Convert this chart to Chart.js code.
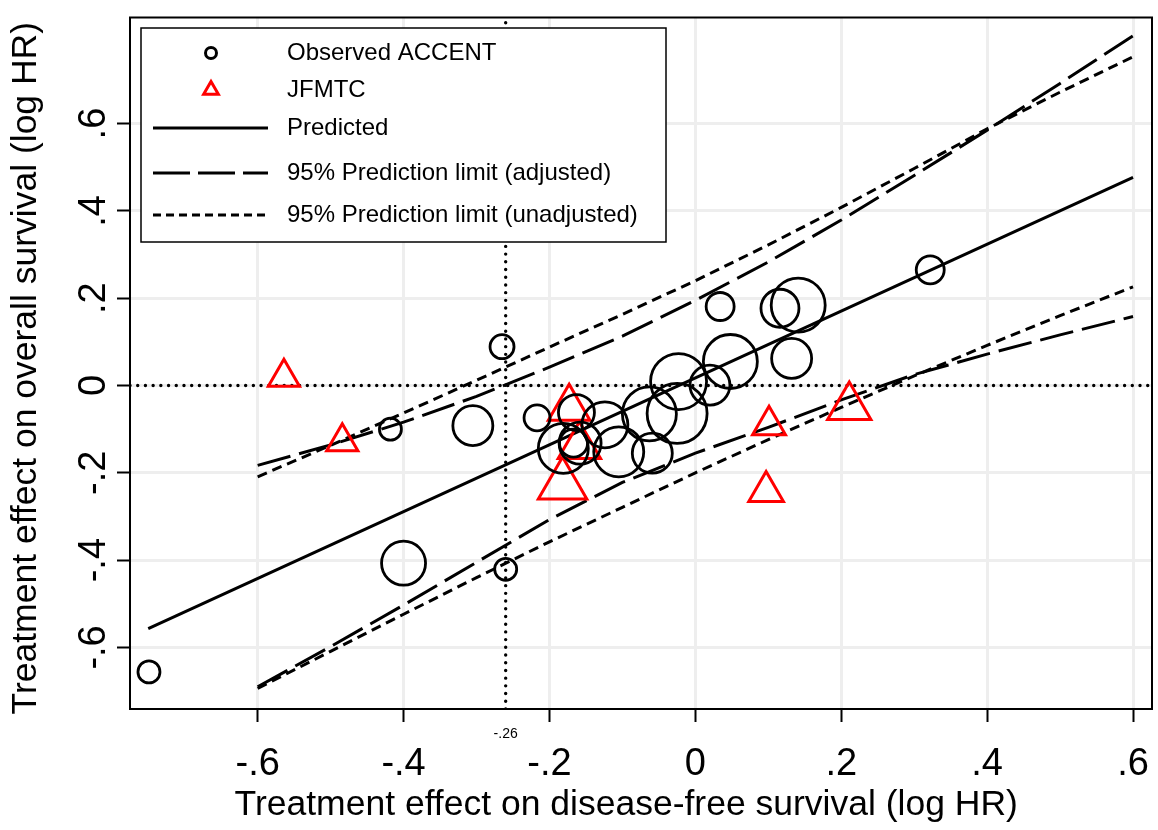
<!DOCTYPE html>
<html>
<head>
<meta charset="utf-8">
<script src="https://cdn.jsdelivr.net/npm/chart.js@4.4.1/dist/chart.umd.min.js"></script>
<style>
  html, body { margin: 0; background: #fff; }
</style>
</head>
<body>
<canvas id="surrogateChart" width="1158" height="830"></canvas>
<script>
// axis ranges and ticks (log HR)
const xLimits = [-0.775, 0.626];
const yLimits = [-0.741, 0.843];
const xTickValues = [-0.6, -0.4, -0.2, 0, 0.2, 0.4, 0.6];
const yTickValues = [-0.6, -0.4, -0.2, 0, 0.2, 0.4, 0.6];
const refX = -0.26;   // surrogate threshold on DFS
const refY = 0;

// ACCENT trials: DFS log HR, OS log HR, relative marker weight
const accentX = [-0.749, -0.418, -0.400, -0.305, -0.265, -0.260, -0.217, -0.163, -0.181, -0.158, -0.167, -0.124,
                 -0.105, -0.063, -0.059, -0.025, -0.023, 0.020, 0.048, 0.034, 0.116, 0.141, 0.132, 0.322];
const accentY = [-0.656, -0.100, -0.407, -0.092, 0.089, -0.421, -0.074, -0.062, -0.144, -0.132, -0.132, -0.090,
                 -0.152, -0.065, -0.155, -0.064, 0.009, 0.001, 0.055, 0.181, 0.177, 0.184, 0.062, 0.265];
const accentWeight = [1.1, 1.1, 2.2, 2.0, 1.2, 1.1, 1.3, 1.8, 2.5, 2.1, 1.4, 2.3,
                      2.5, 2.7, 2.0, 3.0, 2.8, 2.0, 2.7, 1.4, 1.9, 2.7, 2.0, 1.4];

// JFMTC trials
const jfmtcX = [-0.173, -0.159, -0.182, 0.101, 0.097, 0.211, -0.564, -0.484];
const jfmtcY = [-0.052, -0.139, -0.228, -0.091, -0.243, -0.049, 0.019, -0.129];
const jfmtcWeight = [2.4, 2.45, 2.8, 1.9, 2.0, 2.5, 1.8, 1.8];

// regression line
const predX = [-0.75, 0.6];
const predY = [-0.557, 0.477];

// prediction limits
const limitX = [-0.6, -0.5, -0.4, -0.3, -0.2, -0.1, 0, 0.1, 0.2, 0.3, 0.4, 0.5, 0.6];
const adjUpper = [-0.183, -0.136, -0.084, -0.025, 0.042, 0.113, 0.195, 0.283, 0.379, 0.481, 0.585, 0.692, 0.801];
const adjLower = [-0.690, -0.598, -0.503, -0.405, -0.307, -0.222, -0.155, -0.096, -0.033, 0.025, 0.072, 0.116, 0.158];
const unadjUpper = [-0.209, -0.137, -0.063, 0.012, 0.088, 0.163, 0.240, 0.322, 0.408, 0.497, 0.588, 0.672, 0.753];
const unadjLower = [-0.694, -0.609, -0.524, -0.440, -0.358, -0.279, -0.200, -0.124, -0.050, 0.022, 0.092, 0.160, 0.226];

const FONT = 'Liberation Sans';
const markerScale = 10;
const lineW = 3;
const longDash = [34, 9];
const shortDash = [10, 6];
const dotted = [0.01, 7.7];

const pts = (xs, ys) => xs.map((x, i) => ({ x, y: ys[i] }));

function stataLabel(v) {
    if (v === 0) return '0';
    return (v < 0 ? '-' : '') + String(Math.abs(v)).replace(/^0/, '');
}

Chart.defaults.font.family = FONT;
Chart.defaults.color = '#000';

// frame round the plot area and the boxed key
const KEY = { left: 11, top: 10.5, width: 525, height: 214, rowY: [35.5, 72.5, 110.5, 155.5, 197.5],
              symbolX: 81, sampleFrom: 23, sampleTo: 138, textX: 157 };
const keyRows = [0, 1, 2, 3, 5];
const keyDash = { 3: [37, 8], 5: [8, 5] };

const frameAndKey = {
    id: 'frameAndKey',
    afterDraw(chart) {
        const { ctx, chartArea: a } = chart;
        ctx.save();
        ctx.strokeStyle = '#000';
        ctx.lineWidth = 2;
        ctx.strokeRect(a.left, a.top, a.right - a.left, a.bottom - a.top);

        const bx = a.left + KEY.left, by = a.top + KEY.top;
        ctx.fillStyle = '#fff';
        ctx.fillRect(bx, by, KEY.width, KEY.height);
        ctx.lineWidth = 1.5;
        ctx.strokeRect(bx, by, KEY.width, KEY.height);

        keyRows.forEach((dsIndex, row) => {
            const ds = chart.data.datasets[dsIndex];
            const y = a.top + KEY.rowY[row];
            ctx.save();
            ctx.strokeStyle = ds.borderColor;
            if (ds.showLine) {
                ctx.lineWidth = ds.borderWidth;
                ctx.setLineDash(keyDash[dsIndex] || []);
                ctx.beginPath();
                ctx.moveTo(a.left + KEY.sampleFrom, y);
                ctx.lineTo(a.left + KEY.sampleTo, y);
                ctx.stroke();
            } else {
                ctx.fillStyle = 'rgba(0,0,0,0)';
                ctx.lineWidth = 3;
                Chart.helpers.drawPoint(ctx, {
                    pointStyle: ds.pointStyle, rotation: 0, borderWidth: 3,
                    radius: ds.pointStyle === 'triangle' ? 8.5 : 5.5
                }, a.left + KEY.symbolX, y);
            }
            ctx.restore();
            ctx.fillStyle = '#000';
            ctx.font = '24px "' + FONT + '"';
            ctx.textBaseline = 'middle';
            ctx.fillText(ds.label, a.left + KEY.textX, y);
        });
        ctx.restore();
    }
};

const isRef = c => c.tick && c.tick.value === refX;
const noEdgePadding = s => { s.paddingLeft = s.paddingRight = s.paddingTop = s.paddingBottom = 0; };

new Chart(document.getElementById('surrogateChart'), {
    type: 'scatter',
    data: {
        datasets: [
            { label: 'Observed ACCENT', data: pts(accentX, accentY), pointStyle: 'circle',
              pointRadius: c => accentWeight[c.dataIndex] * markerScale,
              borderColor: '#000', backgroundColor: 'rgba(0,0,0,0)', pointBorderWidth: 2.8 },
            { label: 'JFMTC', data: pts(jfmtcX, jfmtcY), pointStyle: 'triangle',
              pointRadius: c => jfmtcWeight[c.dataIndex] * markerScale,
              borderColor: '#ff0000', backgroundColor: 'rgba(0,0,0,0)', pointBorderWidth: 3 },
            { label: 'Predicted', data: pts(predX, predY), showLine: true, pointRadius: 0,
              borderColor: '#000', borderWidth: lineW },
            { label: '95% Prediction limit (adjusted)', data: pts(limitX, adjUpper), showLine: true, pointRadius: 0,
              borderColor: '#000', borderWidth: lineW, borderDash: longDash },
            { label: '95% Prediction limit (adjusted)', data: pts(limitX, adjLower), showLine: true, pointRadius: 0,
              borderColor: '#000', borderWidth: lineW, borderDash: longDash },
            { label: '95% Prediction limit (unadjusted)', data: pts(limitX, unadjUpper), showLine: true, pointRadius: 0,
              borderColor: '#000', borderWidth: lineW, borderDash: shortDash },
            { label: '95% Prediction limit (unadjusted)', data: pts(limitX, unadjLower), showLine: true, pointRadius: 0,
              borderColor: '#000', borderWidth: lineW, borderDash: shortDash },
            { label: 'ref x', data: pts([refX, refX], yLimits), showLine: true, pointRadius: 0,
              borderColor: '#000', borderWidth: 3.4, borderDash: dotted, borderCapStyle: 'round' },
            { label: 'ref y', data: pts(xLimits, [refY, refY]), showLine: true, pointRadius: 0,
              borderColor: '#000', borderWidth: 3.4, borderDash: dotted, borderCapStyle: 'round' }
        ]
    },
    options: {
        responsive: false,
        animation: false,
        events: [],
        layout: { autoPadding: false, padding: { top: 17.5, right: 6, bottom: 0, left: 0 } },
        plugins: { legend: { display: false }, tooltip: { enabled: false } },
        scales: {
            x: {
                type: 'linear', min: xLimits[0], max: xLimits[1],
                afterBuildTicks: s => { s.ticks = xTickValues.concat(refX).sort((a, b) => a - b).map(v => ({ value: v })); },
                afterFit: s => { s.height = 121; noEdgePadding(s); },
                border: { display: false },
                grid: { color: c => isRef(c) ? 'rgba(0,0,0,0)' : '#eeeeee', lineWidth: 3,
                        tickColor: '#000', tickWidth: c => isRef(c) ? 3 : 2, tickLength: 13,
                        tickBorderDash: c => isRef(c) ? [0.01, 5] : [] },
                ticks: { callback: stataLabel, autoSkip: false, minRotation: 0, maxRotation: 0, padding: 12,
                         font: c => isRef(c) ? { size: 14, lineHeight: 0 } : { size: 38, lineHeight: 1.63 } },
                title: { display: true, text: 'Treatment effect on disease-free survival (log HR)\u00a0\u00a0\u00a0',
                         font: { size: 35.5 }, padding: { top: 0, bottom: 3 } }
            },
            y: {
                type: 'linear', min: yLimits[0], max: yLimits[1],
                afterBuildTicks: s => { s.ticks = yTickValues.map(v => ({ value: v })); },
                afterFit: s => { s.width = 130; noEdgePadding(s); },
                border: { display: false },
                grid: { color: '#eeeeee', lineWidth: 3, tickColor: '#000', tickWidth: 2, tickLength: 13 },
                ticks: { callback: stataLabel, minRotation: 90, maxRotation: 90, crossAlign: 'center',
                         padding: 0, font: { size: 38 } },
                title: { display: true, text: 'Treatment effect on overall survival (log HR)\u00a0',
                         font: { size: 35.5 }, padding: { top: 5, bottom: 0 } }
            }
        }
    },
    plugins: [frameAndKey]
});
</script>
</body>
</html>
